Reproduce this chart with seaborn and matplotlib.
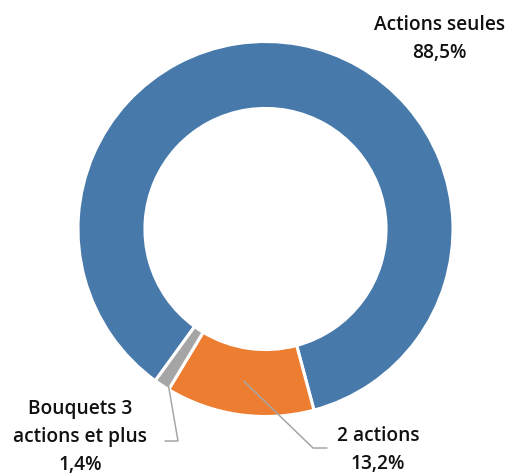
import matplotlib.pyplot as plt
import numpy as np
import seaborn as sns

# data
categories = ["Actions seules", "2 actions", "Bouquets 3\nactions et plus"]
shares = [88.5, 13.2, 1.4]
share_labels = ["88,5%", "13,2%", "1,4%"]
colors = ["#4779AB", "#ED7D31", "#A5A5A5"]

sns.set_theme(style="white")
plt.rcParams['font.family'] = ['Open Sans', 'DejaVu Sans']

W, H = 509, 476
CX, CY, R = 265.5, 229.0, 187.5  # donut centre and radius in pixels


def to_data(px, py):
    """pixel position (from top left) -> data coords, radius 1 = R pixels"""
    return (px - CX) / R, (CY - py) / R


fig = plt.figure(figsize=(W / 100, H / 100), dpi=100)
ax = fig.add_axes([0, 0, 1, 1])

wedges, _ = ax.pie(shares, colors=colors, startangle=-126, counterclock=False,
                   radius=1, wedgeprops=dict(width=0.357, edgecolor='white', linewidth=2.2))

ax.set_xlim(to_data(0, 0)[0], to_data(W, 0)[0])
ax.set_ylim(to_data(0, H)[1], to_data(0, 0)[1])
ax.axis('off')

txt = dict(ha='center', va='center', fontsize=13.8, fontweight='semibold',
           color='#111111', linespacing=1.55)

# label for the big slice, no leader line
x, y = to_data(439.5, 39)
ax.text(x, y, f"{categories[0]}\n{share_labels[0]}", **txt)

# labels with leader lines: (label centre, elbow, line end, anchor radius)
layout = {
    1: ((378, 450), (313, 448), (327, 448), 0.82),
    2: ((80, 437), (178, 441), (165, 441), 0.95),
}
for i, (centre, elbow, end, r_anchor) in layout.items():
    w = wedges[i]
    mid = np.deg2rad((w.theta1 + w.theta2) / 2)
    ax_, ay_ = r_anchor * np.cos(mid), r_anchor * np.sin(mid)
    ex, ey = to_data(*elbow)
    lx, ly = to_data(*end)
    ax.plot([ax_, ex, lx], [ay_, ey, ly], color='#A6A6A6', lw=1.1,
            solid_joinstyle='miter')
    x, y = to_data(*centre)
    ax.text(x, y, f"{categories[i]}\n{share_labels[i]}", **txt)

fig.savefig('out.png', dpi=100)
